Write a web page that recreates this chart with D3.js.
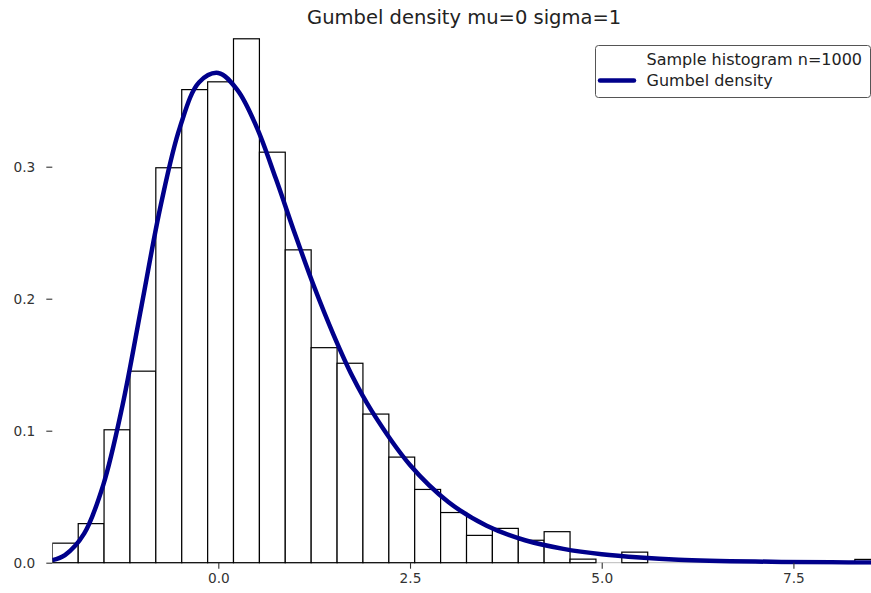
<!DOCTYPE html>
<html>
<head>
<meta charset="utf-8">
<script src="https://cdn.jsdelivr.net/npm/d3@7"></script>
<style>
  body { margin: 0; background: #fff; }
  svg { display: block; font-family: "DejaVu Sans", sans-serif; }
</style>
</head>
<body>
<div id="chart"></div>
<script>
// histogram bin edges (33 edges -> 32 bins)
const binEdges = [-2.165, -1.827, -1.490, -1.152, -0.815, -0.477, -0.139, 0.198, 0.536, 0.873,
    1.211, 1.549, 1.886, 2.224, 2.561, 2.899, 3.237, 3.574, 3.912, 4.249,
    4.587, 4.925, 5.262, 5.600, 5.937, 6.275, 6.613, 6.950, 7.288, 7.625,
    7.963, 8.301, 8.638]

// density of each bin
const binDensity = [0.0148, 0.0296, 0.1007, 0.1451, 0.2992, 0.3584, 0.3643, 0.3969, 0.3110, 0.2370,
    0.1629, 0.1511, 0.1126, 0.0800, 0.0555, 0.0380, 0.0207, 0.0260, 0.0170, 0.0235,
    0.0027, 0, 0.0080, 0, 0, 0, 0, 0, 0, 0,
    0, 0.0025]

// density curve samples
const curveX = [-2.165, -2.0, -1.75, -1.5, -1.25, -1.0, -0.75, -0.5, -0.25, 0, 0.25, 0.5, 0.75, 1.0,
    1.25, 1.5, 1.75, 2.0, 2.5, 3.0, 3.5, 4.0, 4.5, 5.0, 5.5, 6.0, 7.0, 8.0, 8.6]
const curveY = [0.0019, 0.0058, 0.022, 0.059, 0.119, 0.195, 0.271, 0.330, 0.364, 0.371, 0.358, 0.330, 0.291, 0.249,
    0.209, 0.173, 0.141, 0.115, 0.074, 0.046, 0.028, 0.017, 0.0105, 0.0064, 0.0039, 0.0023, 0.0009, 0.0003, 0.0002]

const xTicks = [0, 2.5, 5.0, 7.5]
const yTicks = [0, 0.1, 0.2, 0.3]

const title = `Gumbel density mu=0 sigma=1`
const legendLabels = [`Sample histogram n=1000`, `Gumbel density`]

const width = 871, height = 593
const margin = { top: 34.7, right: -5, bottom: 30.3, left: 52.3 }

const svg = d3.select(`#chart`).append(`svg`)
    .attr(`width`, width)
    .attr(`height`, height)

const x = d3.scaleLinear()
    .domain([binEdges[0], 8.577])
    .range([margin.left, width - margin.right])

const y = d3.scaleLinear()
    .domain([0, 0.4])
    .range([height - margin.bottom, margin.top])

svg.append(`defs`).append(`clipPath`).attr(`id`, `plot`)
    .append(`rect`)
    .attr(`x`, margin.left).attr(`y`, 0)
    .attr(`width`, width - margin.right - margin.left)
    .attr(`height`, height - margin.bottom + 2)

const plot = svg.append(`g`).attr(`clip-path`, `url(#plot)`)

// baseline left by the empty bins
plot.append(`line`)
    .attr(`x1`, x(binEdges[0])).attr(`x2`, x(binEdges[binEdges.length - 1]))
    .attr(`y1`, y(0)).attr(`y2`, y(0))
    .attr(`stroke`, `#bbb`).attr(`stroke-width`, 1)

const bins = binDensity.map((d, i) => ({ x0: binEdges[i], x1: binEdges[i + 1], v: d }))

plot.selectAll(`rect.bar`)
    .data(bins.filter(d => d.v > 0))
    .join(`rect`)
    .attr(`class`, `bar`)
    .attr(`x`, d => x(d.x0))
    .attr(`y`, d => y(d.v))
    .attr(`width`, d => x(d.x1) - x(d.x0))
    .attr(`height`, d => y(0) - y(d.v))
    .attr(`fill`, `#fff`)
    .attr(`stroke`, `#000`)
    .attr(`stroke-width`, 1.2)

const line = d3.line()
    .x((d, i) => x(curveX[i]))
    .y(d => y(d))
    .curve(d3.curveCatmullRom)

plot.append(`path`)
    .attr(`d`, line(curveY))
    .attr(`fill`, `none`)
    .attr(`stroke`, `#00008b`)
    .attr(`stroke-width`, 4.5)
    .attr(`stroke-linejoin`, `round`)

// axes without spines
const xAxis = svg.append(`g`)
    .attr(`transform`, `translate(0,${y(0)})`)
    .call(d3.axisBottom(x).tickValues(xTicks).tickFormat(d3.format(`.1f`)).tickSize(6).tickPadding(5))
xAxis.select(`.domain`).remove()

const yAxis = svg.append(`g`)
    .attr(`transform`, `translate(${margin.left},0)`)
    .call(d3.axisLeft(y).tickValues(yTicks).tickFormat(d3.format(`.1f`)).tickSize(6).tickPadding(11))
yAxis.select(`.domain`).remove()

svg.selectAll(`.tick text`)
    .attr(`font-family`, `"DejaVu Sans", sans-serif`)
    .attr(`font-size`, 13.7)
    .attr(`fill`, `#333`)
svg.selectAll(`.tick line`).attr(`stroke`, `#333`).attr(`stroke-width`, 1.1)

svg.append(`text`)
    .attr(`x`, (margin.left + width - margin.right) / 2)
    .attr(`y`, 24)
    .attr(`text-anchor`, `middle`)
    .attr(`font-size`, 19.5)
    .attr(`fill`, `#222`)
    .text(title)

// legend
const legend = svg.append(`g`)
legend.append(`rect`)
    .attr(`x`, 595.5).attr(`y`, 45.5)
    .attr(`width`, 275).attr(`height`, 52)
    .attr(`rx`, 3)
    .attr(`fill`, `#fff`).attr(`fill-opacity`, 0.8)
    .attr(`stroke`, `#555`).attr(`stroke-width`, 1)

legend.append(`line`)
    .attr(`x1`, 600).attr(`x2`, 634)
    .attr(`y1`, 80.5).attr(`y2`, 80.5)
    .attr(`stroke`, `#00008b`).attr(`stroke-width`, 4.5)
    .attr(`stroke-linecap`, `round`)

legend.selectAll(`text`)
    .data(legendLabels)
    .join(`text`)
    .attr(`x`, 646.5)
    .attr(`y`, (d, i) => 65 + i * 21)
    .attr(`font-size`, 16)
    .attr(`fill`, `#222`)
    .text(d => d)
</script>
</body>
</html>
